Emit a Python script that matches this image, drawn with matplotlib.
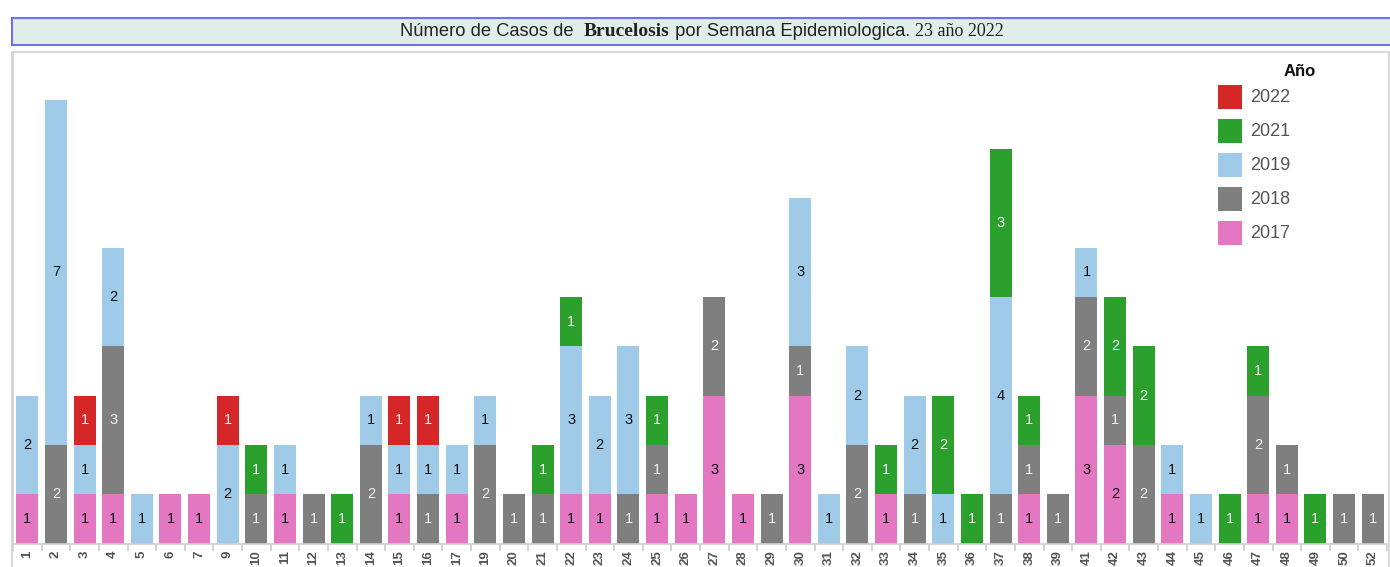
import matplotlib
matplotlib.use("Agg")
import matplotlib.pyplot as plt
from matplotlib.patches import Rectangle
import numpy as np

W, H = 1390, 567

weeks = [1, 2, 3, 4, 5, 6, 7, 9, 10, 11, 12, 13, 14, 15, 16, 17, 19, 20, 21, 22,
         23, 24, 25, 26, 27, 28, 29, 30, 31, 32, 33, 34, 35, 36, 37, 38, 39, 41, 42,
         43, 44, 45, 46, 47, 48, 49, 50, 52]

years = ["2017", "2018", "2019", "2021", "2022"]
colors = {"2017": "#e377c2", "2018": "#7f7f7f", "2019": "#9fcae8",
          "2021": "#2ca02c", "2022": "#d62728"}
text_colors = {"2017": "#111111", "2018": "#f2f2f2", "2019": "#111111",
               "2021": "#f2f2f2", "2022": "#f2f2f2"}

v2017 = [1, 0, 1, 1, 0, 1, 1, 0, 0, 1, 0, 0, 0, 1, 0, 1, 0, 0, 0, 1,
         1, 0, 1, 1, 3, 1, 0, 3, 0, 0, 1, 0, 0, 0, 0, 1, 0, 3, 2,
         0, 1, 0, 0, 1, 1, 0, 0, 0]
v2018 = [0, 2, 0, 3, 0, 0, 0, 0, 1, 0, 1, 0, 2, 0, 1, 0, 2, 1, 1, 0,
         0, 1, 1, 0, 2, 0, 1, 1, 0, 2, 0, 1, 0, 0, 1, 1, 1, 2, 1,
         2, 0, 0, 0, 2, 1, 0, 1, 1]
v2019 = [2, 7, 1, 2, 1, 0, 0, 2, 0, 1, 0, 0, 1, 1, 1, 1, 1, 0, 0, 3,
         2, 3, 0, 0, 0, 0, 0, 3, 1, 2, 0, 2, 1, 0, 4, 0, 0, 1, 0,
         0, 1, 1, 0, 0, 0, 0, 0, 0]
v2021 = [0, 0, 0, 0, 0, 0, 0, 0, 1, 0, 0, 1, 0, 0, 0, 0, 0, 0, 1, 1,
         0, 0, 1, 0, 0, 0, 0, 0, 0, 0, 1, 0, 2, 1, 3, 1, 0, 0, 2,
         2, 0, 0, 1, 1, 0, 1, 0, 0]
v2022 = [0, 0, 1, 0, 0, 0, 0, 1, 0, 0, 0, 0, 0, 1, 1, 0, 0, 0, 0, 0,
         0, 0, 0, 0, 0, 0, 0, 0, 0, 0, 0, 0, 0, 0, 0, 0, 0, 0, 0,
         0, 0, 0, 0, 0, 0, 0, 0, 0]
series = {"2017": v2017, "2018": v2018, "2019": v2019, "2021": v2021, "2022": v2022}
legend_order = ["2022", "2021", "2019", "2018", "2017"]

fig = plt.figure(figsize=(W / 100, H / 100), dpi=100)
fig.patch.set_facecolor("white")

def fx(px):
    return px / W

def fy(py):
    return 1 - py / H

# chart frame
fig.patches.append(Rectangle((fx(12), fy(600)), fx(1389) - fx(12), fy(52) - fy(600),
                             transform=fig.transFigure, facecolor="none",
                             edgecolor="#d9d9d9", linewidth=1.5, zorder=-1))
# title box
fig.patches.append(Rectangle((fx(12), fy(45)), fx(1400) - fx(12), fy(18) - fy(45),
                             transform=fig.transFigure, facecolor="#e0eeea",
                             edgecolor="#6f6ff0", linewidth=1.5, zorder=-1))

ax_left, ax_right, ax_top, ax_bot = 13, 1387, 52, 543.5
ax = fig.add_axes([fx(ax_left), fy(ax_bot), fx(ax_right) - fx(ax_left), fy(ax_top) - fy(ax_bot)])
ax.set_facecolor("none")
ax.set_zorder(2)

x = np.arange(len(weeks))
bottom = np.zeros(len(weeks))
for yr in years:
    vals = np.array(series[yr], dtype=float)
    ax.bar(x, vals, bottom=bottom, width=0.77, color=colors[yr], linewidth=0, zorder=2)
    for xi, v, b in zip(x, vals, bottom):
        if v > 0:
            ax.text(xi, b + v / 2, f"{int(v)}", ha="center", va="center",
                    fontsize=10.5, family="Liberation Sans", color=text_colors[yr], zorder=3)
    bottom += vals

ax.set_xlim(-0.5, len(weeks) - 0.5)
ax.set_ylim(0, 9.97)
ax.set_yticks([])
ax.set_xticks(x)
ax.set_xticklabels([str(w) for w in weeks], rotation=90, fontsize=9.5,
                   fontweight="bold", family="Liberation Sans", color="#555555")
ax.set_xticks(np.arange(-0.5, len(weeks), 1), minor=True)
ax.tick_params(axis="x", which="major", length=0, pad=5)
ax.tick_params(axis="x", which="minor", length=5, color="#cccccc", width=1.2)
for s in ["top", "right"]:
    ax.spines[s].set_visible(False)
ax.spines["left"].set_color("#d0d0d0")
ax.spines["bottom"].set_color("#d0d0d0")
ax.spines["left"].set_linewidth(1.2)
ax.spines["bottom"].set_linewidth(1.2)

# legend
fig.text(fx(1300), fy(71), "Año", ha="center", va="center", fontsize=12,
         fontweight="bold", family="Liberation Sans", color="#111111")
for i, yr in enumerate(legend_order):
    top = 85 + 34 * i
    fig.patches.append(Rectangle((fx(1218), fy(top + 24)), fx(1242) - fx(1218), fy(top) - fy(top + 24),
                                 transform=fig.transFigure, facecolor=colors[yr], edgecolor="none"))
    fig.text(fx(1250), fy(top + 12.5), yr, ha="left", va="center", fontsize=13,
             family="Liberation Sans", color="#555555")

# title pieces
pieces = [("Número de Casos de  ", "sans", 13.2),
          ("Brucelosis", "serif", 14),
          (" por Semana Epidemiologica. ", "sans", 13.2),
          ("23 año 2022", "serif", 13)]
renderer = fig.canvas.get_renderer()
txts = []
total = 0
for s, kind, fs in pieces:
    fam = ["Liberation Serif", "DejaVu Serif"] if kind == "serif" else ["Liberation Sans", "DejaVu Sans"]
    t = fig.text(0, fy(31), s, ha="left", va="center", fontsize=fs,
                 family=fam, color="#222222",
                 fontweight="semibold" if s == "Brucelosis" else "normal")
    w = t.get_window_extent(renderer).width
    txts.append((t, w))
    total += w
start = 702 - total / 2
for t, w in txts:
    t.set_x(fx(start))
    start += w

fig.savefig("out.png", dpi=100)
